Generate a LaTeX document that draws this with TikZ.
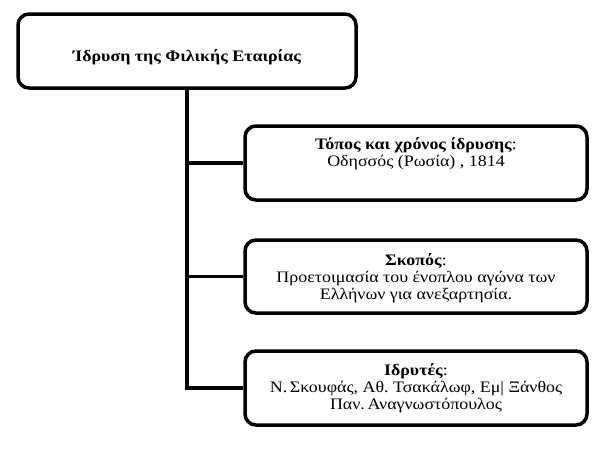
\documentclass[tikz,border=0pt]{standalone}
\usepackage{fontspec}
\setmainfont[FakeStretch=1.12]{Liberation Serif}
\frenchspacing
\begin{document}
\begin{tikzpicture}[x=1pt,y=-1pt,
  box/.style={draw=black,line width=3.5pt,rounded corners=11pt,fill=white,inner sep=0pt},
  txt/.style={align=center,inner sep=0pt,font=\fontsize{16}{17}\selectfont},
  conn/.style={draw=black,line width=3.3pt}]
\useasboundingbox (0,0) rectangle (607,450);
\node[box,minimum width=338pt,minimum height=74pt] (top) at (187,51) {};
\node[box,minimum width=342pt,minimum height=74pt] (b1) at (416,163) {};
\node[box,minimum width=342pt,minimum height=73pt] (b2) at (416,276.5) {};
\node[box,minimum width=342pt,minimum height=74pt] (b3) at (416,388) {};
\path[conn] (top.south) -- (top.south |- b3.west) -- (b3.west);
\path[conn] (top.south |- b1.west) -- (b1.west);
\path[conn] (top.south |- b2.west) -- (b2.west);
\node[txt] (t0) at (187,57) {\textbf{Ίδρυση της Φιλικής Εταιρίας}};
\node[txt] (t1) at (416,153.5) {\textbf{Τόπος και χρόνος ίδρυσης}:\\Οδησσός (Ρωσία) , 1814};
\node[txt] (t2) at (416,278.5) {\textbf{Σκοπός}:\\Προετοιμασία του ένοπλου αγώνα των\\Ελλήνων για ανεξαρτησία.};
\node[txt] (t3) at (416,388.5) {\textbf{Ιδρυτές}:\\Ν.\,Σκουφάς, Αθ. Τσακάλωφ, Εμ| Ξάνθος\\Παν.\,Αναγνωστόπουλος};
\end{tikzpicture}
\end{document}
